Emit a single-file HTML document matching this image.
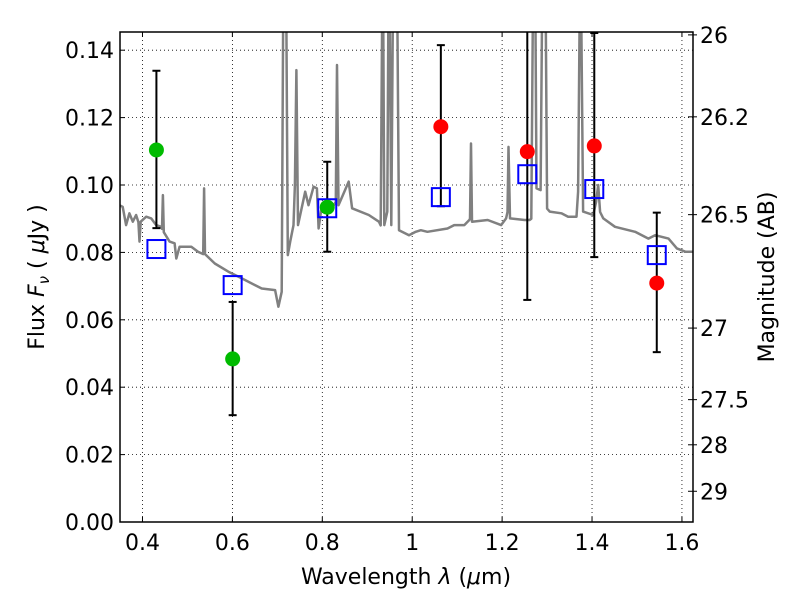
<!DOCTYPE html>
<html><head><meta charset="utf-8"><style>
html,body{margin:0;padding:0;background:#fff;}
svg{display:block;font-family:"DejaVu Sans","Liberation Sans",sans-serif;}
</style></head><body>
<svg id="chart" width="800" height="600" viewBox="0 0 800 600">
<defs><clipPath id="clip"><rect x="120" y="32" width="573" height="490"/></clipPath></defs>
<g id="grid"></g>
<g id="spec" clip-path="url(#clip)"></g>
<g id="marks"></g>
<rect x="120" y="32" width="573" height="490" fill="none" stroke="#000" stroke-width="1.5"/>
<g id="axes"></g>
<text x="406" y="584" font-size="22" text-anchor="middle">Wavelength  <tspan font-style="italic">λ</tspan> (<tspan font-style="italic">μ</tspan>m)</text>
<text transform="translate(44,277) rotate(-90)" font-size="22" text-anchor="middle">Flux  <tspan font-style="italic">F</tspan><tspan font-style="italic" font-size="15" dy="5">ν</tspan><tspan dy="-5">  (  </tspan><tspan font-style="italic">μ</tspan>Jy )</text>
<text transform="translate(774,277) rotate(-90)" font-size="22" text-anchor="middle">Magnitude (AB)</text>
</svg>
<script>
const xTicks=[0.4,0.6,0.8,1.0,1.2,1.4,1.6];
const xTickLabels=["0.4","0.6","0.8","1","1.2","1.4","1.6"];
const yTicks=[0,0.02,0.04,0.06,0.08,0.10,0.12,0.14];
const yTickLabels=["0.00","0.02","0.04","0.06","0.08","0.10","0.12","0.14"];
const magTicks=[26,26.2,26.5,27,27.5,28,29];
const magTickLabels=["26","26.2","26.5","27","27.5","28","29"];
const specLam=[0.3486,0.356,0.3635,0.371,0.3784,0.3858,0.391,0.3933,0.396,0.4082,0.4193,0.4305,0.4417,0.4435,0.4454,0.4475,0.4603,0.4715,0.4752,0.4826,0.5087,0.5236,0.535,0.537,0.539,0.5609,0.5907,0.6205,0.6503,0.6651,0.695,0.7024,0.7098,0.713,0.72,0.7233,0.7285,0.736,0.739,0.7425,0.746,0.762,0.7694,0.7806,0.788,0.7918,0.7992,0.8216,0.83,0.8327,0.836,0.8588,0.8663,0.9035,0.9259,0.93,0.9333,0.9355,0.938,0.9445,0.947,0.95,0.9535,0.957,0.9668,0.9706,0.9929,1.0078,1.019,1.0339,1.0786,1.0935,1.1158,1.127,1.1285,1.1307,1.133,1.168,1.1978,1.2089,1.212,1.2142,1.2175,1.2499,1.2611,1.265,1.2685,1.274,1.2765,1.2857,1.289,1.297,1.3,1.3058,1.3318,1.3467,1.3654,1.3691,1.3725,1.376,1.3802,1.4026,1.409,1.4137,1.418,1.425,1.451,1.4957,1.5255,1.5404,1.5702,1.5888,1.6075,1.6261];
const specFlux=[0.094,0.0935,0.0881,0.0916,0.0891,0.0911,0.089,0.0832,0.0891,0.0906,0.0901,0.0881,0.0876,0.087,0.097,0.086,0.0832,0.0827,0.0782,0.0817,0.0817,0.0802,0.0795,0.099,0.0795,0.0767,0.0743,0.0723,0.0703,0.0693,0.0688,0.0639,0.0683,0.152,0.152,0.0792,0.0832,0.0881,0.1,0.1341,0.0881,0.098,0.094,0.0995,0.099,0.0871,0.094,0.0931,0.095,0.1356,0.094,0.101,0.0931,0.0911,0.0891,0.088,0.152,0.152,0.0881,0.0921,0.152,0.152,0.0881,0.152,0.152,0.0866,0.0851,0.0861,0.0866,0.0861,0.0871,0.0881,0.0881,0.0896,0.09,0.1123,0.0891,0.0896,0.0881,0.0901,0.092,0.1113,0.0901,0.0896,0.0896,0.09,0.152,0.152,0.099,0.0985,0.152,0.152,0.093,0.0921,0.0916,0.0906,0.0906,0.098,0.152,0.152,0.0921,0.0911,0.095,0.1,0.092,0.0901,0.0876,0.0861,0.0841,0.0851,0.0841,0.0812,0.0802,0.0802];
const modelLam=[0.431,0.6006,0.811,1.0637,1.256,1.405,1.544];
const modelFlux=[0.081,0.0703,0.0931,0.0964,0.1032,0.0988,0.0792];
const obsLam=[0.431,0.6006,0.811,1.0637,1.256,1.405,1.544];
const obsFlux=[0.1104,0.0484,0.0934,0.1173,0.1099,0.1116,0.0709];
const obsLow=[0.0872,0.0317,0.0802,0.0937,0.0659,0.0786,0.0504];
const obsHigh=[0.1339,0.0653,0.1069,0.1415,0.16,0.1451,0.0918];
const obsColor=["#00bb00","#00bb00","#00bb00","#ff0000","#ff0000","#ff0000","#ff0000"];

const X0=120,X1=693,Y0=522,Y1=32;
const xmin=0.35,xmax=1.6246,ymin=0,ymax=0.1454;
const sx=v=>X0+(v-xmin)/(xmax-xmin)*(X1-X0);
const sy=v=>Y0-(v-ymin)/(ymax-ymin)*(Y0-Y1);
const magToFlux=m=>Math.pow(10,(23.9-m)/2.5);
const NS="http://www.w3.org/2000/svg";
function mk(tag,attrs,parent,text){const e=document.createElementNS(NS,tag);for(const k in attrs)e.setAttribute(k,attrs[k]);if(text!==undefined)e.textContent=text;parent.appendChild(e);return e;}
const grid=document.getElementById('grid'),axes=document.getElementById('axes'),spec=document.getElementById('spec'),marks=document.getElementById('marks');

xTicks.forEach((t,i)=>{
 const x=sx(t);
 const g=mk('line',{x1:x,x2:x,y1:Y1,y2:Y0,stroke:'#000','stroke-width':0.8,'stroke-dasharray':'1,3'},grid);
 
 
 mk('line',{x1:x,x2:x,y1:Y0,y2:Y0-5,stroke:'#000','stroke-width':1},axes);
 mk('line',{x1:x,x2:x,y1:Y1,y2:Y1+5,stroke:'#000','stroke-width':1},axes);
 const l=mk('text',{x:x,y:Y0+28,'font-size':22,'text-anchor':'middle'},axes,xTickLabels[i]);
 
 
});
yTicks.forEach((t,i)=>{
 const y=sy(t);
 const g=mk('line',{x1:X0,x2:X1,y1:y,y2:y,stroke:'#000','stroke-width':0.8,'stroke-dasharray':'1,3'},grid);
 
 
 mk('line',{x1:X0,x2:X0+5,y1:y,y2:y,stroke:'#000','stroke-width':1},axes);
 const l=mk('text',{x:X0-6,y:y+8,'font-size':22,'text-anchor':'end'},axes,yTickLabels[i]);
 
 
});
magTicks.forEach((m,i)=>{
 const y=sy(magToFlux(m));
 mk('line',{x1:X1-5,x2:X1+4,y1:y,y2:y,stroke:'#000','stroke-width':1},axes);
 const l=mk('text',{x:X1+7,y:y+8,'font-size':22,'text-anchor':'start'},axes,magTickLabels[i]);
 
 
});

const pts=specLam.map((l,i)=>sx(l).toFixed(1)+','+sy(specFlux[i]).toFixed(1)).join(' ');
const pl=mk('polyline',{points:pts,fill:'none',stroke:'#808080','stroke-width':2.5,'stroke-linejoin':'round'},spec);



obsLam.forEach((l,i)=>{
 const x=sx(l);
 const yl=Math.min(sy(obsLow[i]),Y0),yh=Math.max(sy(obsHigh[i]),Y1);
 const eb=mk('line',{x1:x,x2:x,y1:yl,y2:yh,stroke:'#000','stroke-width':2},marks);
 
 
 mk('line',{x1:x-4,x2:x+4,y1:yl,y2:yl,stroke:'#000','stroke-width':2},marks);
 if(sy(obsHigh[i])>=Y1) mk('line',{x1:x-4,x2:x+4,y1:yh,y2:yh,stroke:'#000','stroke-width':2},marks);
});
modelLam.forEach((l,i)=>{
 const r=mk('rect',{x:sx(l)-9,y:sy(modelFlux[i])-9,width:18,height:18,fill:'none',stroke:'#0000ff','stroke-width':2},marks);
 
 
});
obsLam.forEach((l,i)=>{
 const c=mk('circle',{cx:sx(l),cy:sy(obsFlux[i]),r:7.5,fill:obsColor[i]},marks);
 
 
});
</script>
</body></html>
